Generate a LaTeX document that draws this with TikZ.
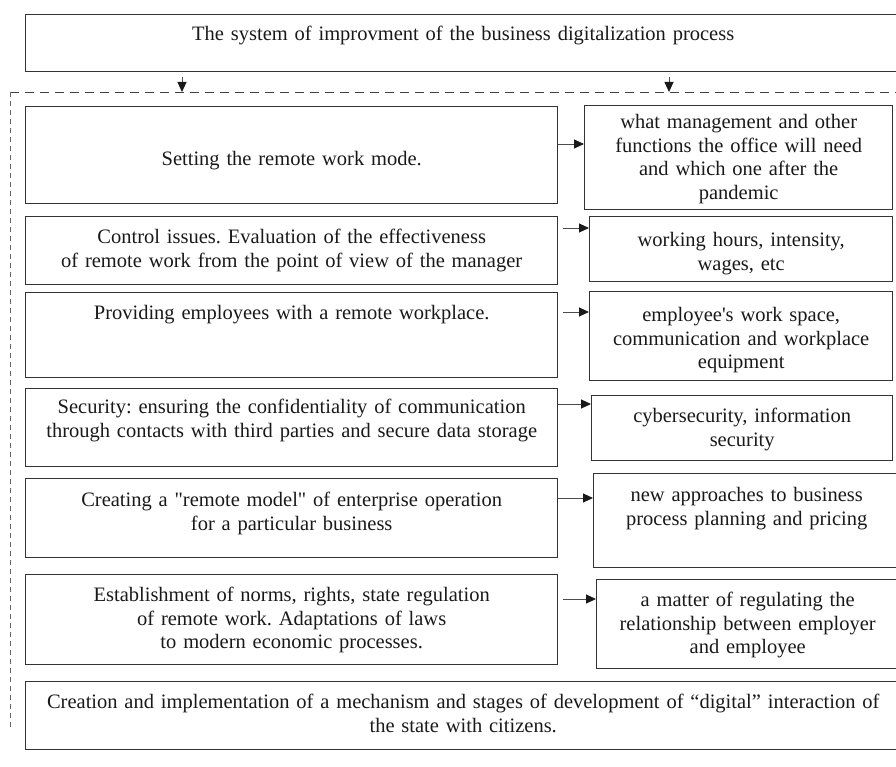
\documentclass[tikz,border=0pt]{standalone}
\usepackage{fontspec}
\setmainfont{Liberation Serif}[Ligatures=TeXOff]
\usetikzlibrary{arrows.meta}
\frenchspacing

\begin{document}
\begin{tikzpicture}[x=1pt,y=-1pt]
\tikzstyle{every node}+=[inner sep=0pt]
\tikzstyle{box}=[draw=black!80, line width=1.4pt, anchor=north west, align=center, text=black!90, font=\fontsize{20.5}{23.5}\selectfont]
\tikzstyle{arr}=[draw=black!70, line width=0.9pt, -{Triangle[length=10pt,width=9pt,color=black!90]}]
\tikzstyle{sep}=[draw=black!75, line width=0.9pt, dash pattern=on 9pt off 6pt]
\tikzstyle{side}=[draw=black!60, line width=0.8pt, dash pattern=on 5pt off 4pt]
\useasboundingbox (0,0) rectangle (896,767);
\clip (0,0) rectangle (896,767);
\node[box, text width=875pt, text height=26pt, text depth=31pt] (sys) at (25,14) {The system of improvment of the business digitalization process};
\coordinate (dl) at (10,92);
\coordinate (dr) at (910,92);
\coordinate (db) at (10,728);
\draw[sep] (dl) -- (dr);
\draw[side] (dl) -- (db);
\coordinate (t1) at (182,77);
\coordinate (t2) at (669,77);
\draw[arr] (t1) -- (t1 |- dl);
\draw[arr] (t2) -- (t2 |- dl);
\node[box, text width=532pt, text height=59pt, text depth=38pt] (mode) at (25,106) {Setting the remote work mode.};
\node[box, text width=532pt, text height=27pt, text depth=41pt] (control) at (25,216) {Control issues. Evaluation of the effectiveness\\of remote work from the point of view of the manager};
\node[box, text width=532pt, text height=27pt, text depth=58pt] (place) at (25,292) {Providing employees with a remote workplace.};
\node[box, text width=532pt, text height=25pt, text depth=53pt] (secure) at (25,388) {Security: ensuring the confidentiality of communication\\through contacts with third parties and secure data storage};
\node[box, text width=532pt, text height=28pt, text depth=51pt] (model) at (25,478) {Creating a "remote model" of enterprise operation\\for a particular business};
\node[box, text width=532pt, text height=27pt, text depth=63pt] (norms) at (25,574) {Establishment of norms, rights, state regulation\\of remote work. Adaptations of laws\\to modern economic processes.};
\node[box, text width=875pt, text height=27pt, text depth=41pt] (state) at (25,681) {Creation and implementation of a mechanism and stages of development of “digital” interaction of\\the state with citizens.};
\node[box, text width=308pt, text height=23pt, text depth=81pt] (needs) at (584,105) {what management and other\\functions the office will need\\and which one after the\\pandemic};
\node[box, text width=303pt, text height=30pt, text depth=35pt] (hours) at (589,216) {working hours, intensity,\\wages, etc};
\node[box, text width=303pt, text height=30pt, text depth=59pt] (space) at (589,291) {employee's work space,\\communication and workplace\\equipment};
\node[box, text width=301pt, text height=27pt, text depth=38pt] (cyber) at (591,395) {cybersecurity, information\\security};
\node[box, text width=306pt, text height=28pt, text depth=66pt] (pricing) at (593,473) {new approaches to business\\process planning and pricing};
\node[box, text width=302pt, text height=27pt, text depth=62pt] (relation) at (596,579) {a matter of regulating the\\relationship between employer\\and employee};
\draw[arr] (mode.east |- 0,144) -- (needs.west |- 0,144);
\draw[arr, shorten <=5pt] (control.east |- 0,228) -- (hours.west |- 0,228);
\draw[arr, shorten <=5pt] (place.east |- 0,312) -- (space.west |- 0,312);
\draw[arr] (secure.east |- 0,404) -- (cyber.west |- 0,404);
\draw[arr] (model.east |- 0,498) -- (pricing.west |- 0,498);
\draw[arr, shorten <=5pt] (norms.east |- 0,599) -- (relation.west |- 0,599);
\end{tikzpicture}
\end{document}
